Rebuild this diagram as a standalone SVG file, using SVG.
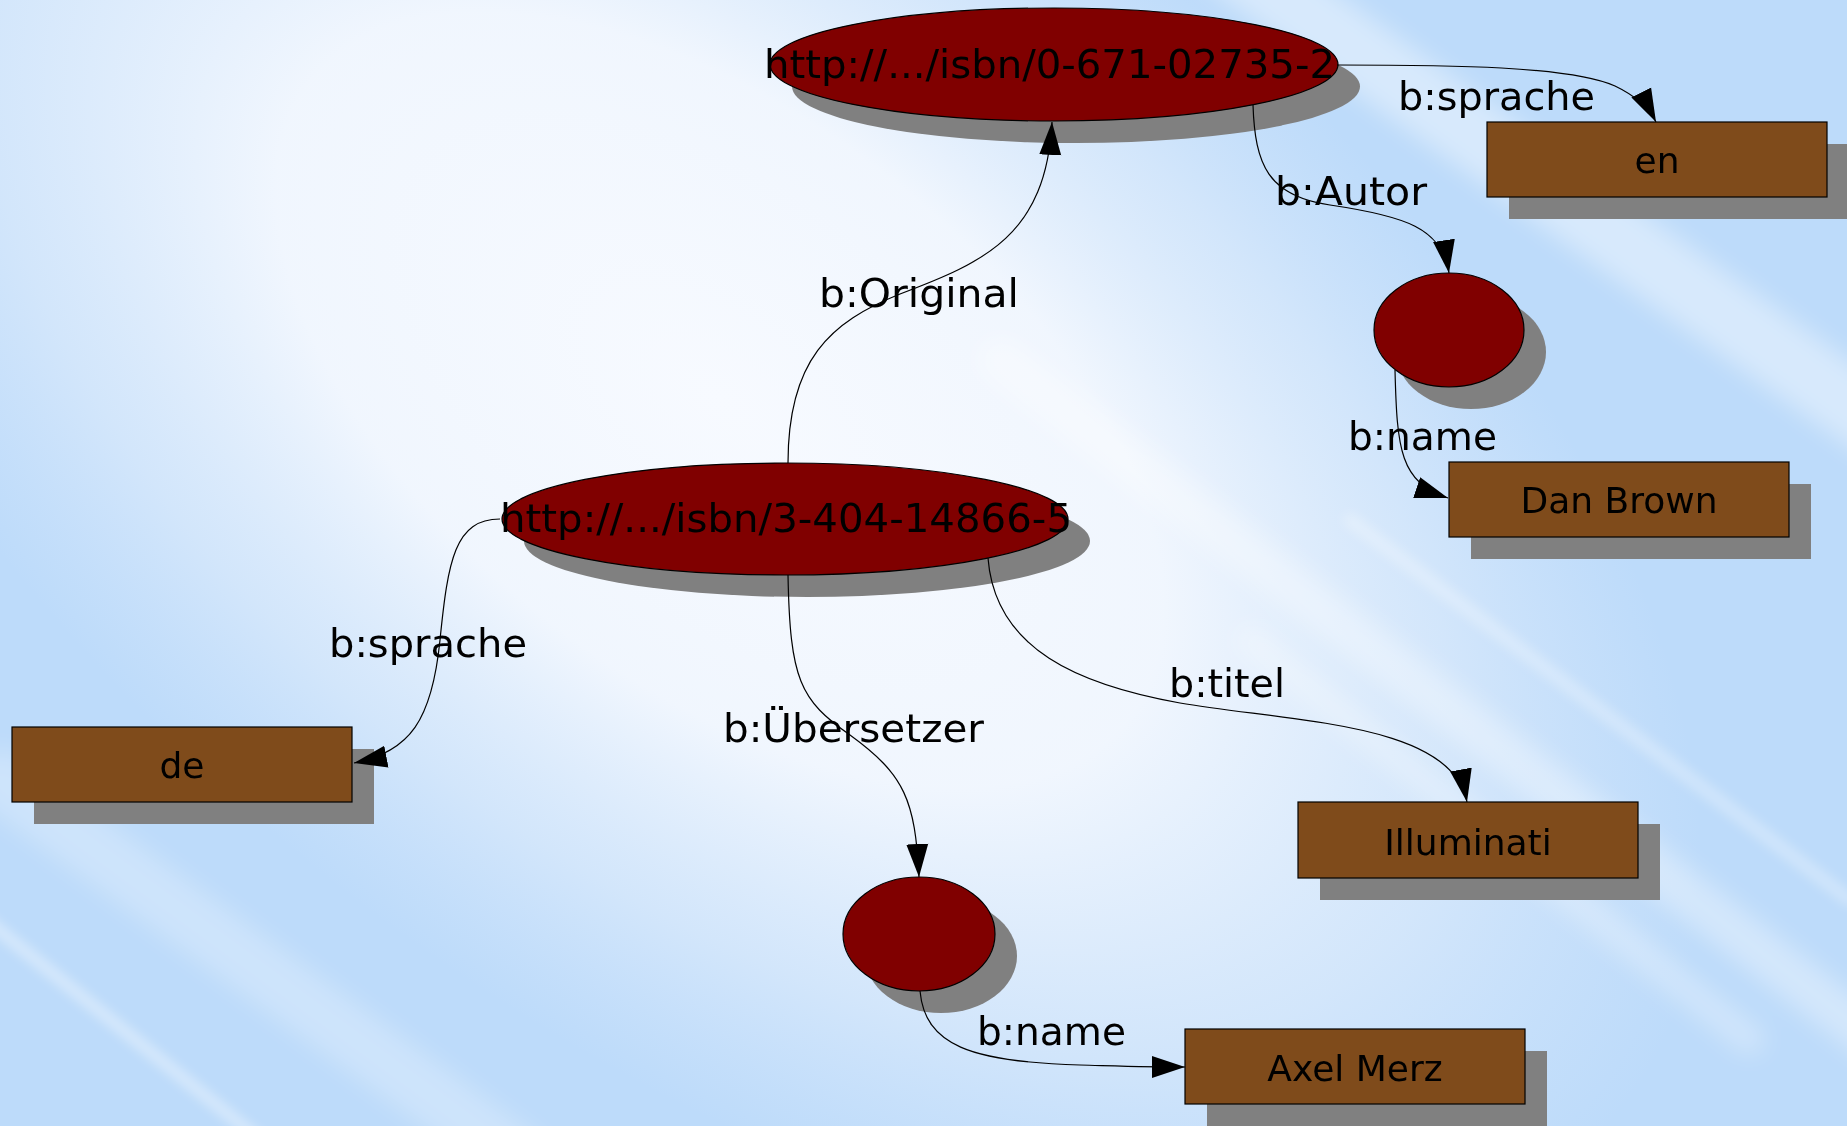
<svg xmlns="http://www.w3.org/2000/svg" width="1847" height="1126" viewBox="0 0 1847 1126">
<style>
.sh{fill:#808080}
.res{fill:#800000;stroke:#000;stroke-width:1.2}
.lit{fill:#7f4b1b;stroke:#000;stroke-width:1.2}
.url{fill:#000;font-family:"DejaVu Sans",sans-serif;font-size:39px}
.val{fill:#000;font-family:"DejaVu Sans",sans-serif;font-size:36px;text-anchor:middle}
.lbl{fill:#000;font-family:"DejaVu Sans",sans-serif;font-size:39px}
.edge{fill:none;stroke:#000;stroke-width:1.2;marker-end:url(#arr)}
.streak{stroke:#fff;fill:none;stroke-linecap:round}
</style>
<defs>
<marker id="arr" markerUnits="userSpaceOnUse" markerWidth="34" markerHeight="24" viewBox="0 0 34 24" refX="33" refY="12" orient="auto">
<path d="M0,1 L33,12 L0,23 Z" fill="#000"/>
</marker>
<radialGradient id="glow" gradientUnits="userSpaceOnUse" cx="0" cy="0" r="1" gradientTransform="translate(720 400) rotate(38) scale(1150 620)">
<stop offset="0" stop-color="#f7faff" stop-opacity="1"/>
<stop offset="0.45" stop-color="#f2f7fe" stop-opacity="0.97"/>
<stop offset="0.75" stop-color="#e4effc" stop-opacity="0.55"/>
<stop offset="1" stop-color="#dceafc" stop-opacity="0"/>
</radialGradient>
<filter id="blur" x="-20%" y="-20%" width="140%" height="140%"><feGaussianBlur stdDeviation="12"/></filter>
<filter id="blur2" x="-20%" y="-20%" width="140%" height="140%"><feGaussianBlur stdDeviation="6"/></filter>
</defs>

<g id="background">
<rect x="0" y="0" width="1847" height="1126" fill="#bddbfa"/>
<rect x="0" y="0" width="1847" height="1126" fill="url(#glow)"/>
<g filter="url(#blur)">
<line class="streak" x1="1230" y1="-40" x2="1900" y2="440" stroke-width="70" opacity="0.4"/>
<line class="streak" x1="1000" y1="360" x2="1900" y2="1060" stroke-width="45" opacity="0.35"/>
<line class="streak" x1="1250" y1="640" x2="1750" y2="1040" stroke-width="30" opacity="0.3"/>
<line class="streak" x1="0" y1="780" x2="520" y2="1160" stroke-width="60" opacity="0.25"/>
</g>
<g filter="url(#blur2)">
<line class="streak" x1="-20" y1="915" x2="260" y2="1140" stroke-width="12" opacity="0.4"/>
<line class="streak" x1="1350" y1="520" x2="1850" y2="900" stroke-width="14" opacity="0.3"/>
</g>
</g>

<g id="node-book-en">
<ellipse class="sh" cx="1076" cy="86.5" rx="284" ry="56.5"/>
<ellipse class="res" cx="1054" cy="64.5" rx="284" ry="56.5"/>
<text class="url" x="764" y="78" textLength="571" lengthAdjust="spacingAndGlyphs">http://.../isbn/0-671-02735-2</text>
</g>

<g id="node-book-de">
<ellipse class="sh" cx="807" cy="541" rx="283" ry="56"/>
<ellipse class="res" cx="785" cy="519" rx="283" ry="56"/>
<text class="url" x="500" y="532" textLength="572" lengthAdjust="spacingAndGlyphs">http://.../isbn/3-404-14866-5</text>
</g>

<g id="node-author">
<ellipse class="sh" cx="1471" cy="352" rx="75" ry="57"/>
<ellipse class="res" cx="1449" cy="330" rx="75" ry="57"/>
</g>

<g id="node-translator">
<ellipse class="sh" cx="941" cy="956" rx="76" ry="57"/>
<ellipse class="res" cx="919" cy="934" rx="76" ry="57"/>
</g>

<g id="node-en">
<rect class="sh" x="1509" y="144" width="340" height="75"/>
<rect class="lit" x="1487" y="122" width="340" height="75"/>
<text class="val" x="1657" y="173">en</text>
</g>

<g id="node-danbrown">
<rect class="sh" x="1471" y="484" width="340" height="75"/>
<rect class="lit" x="1449" y="462" width="340" height="75"/>
<text class="val" x="1619" y="513">Dan Brown</text>
</g>

<g id="node-de">
<rect class="sh" x="34" y="749" width="340" height="75"/>
<rect class="lit" x="12" y="727" width="340" height="75"/>
<text class="val" x="182" y="778">de</text>
</g>

<g id="node-illuminati">
<rect class="sh" x="1320" y="824" width="340" height="76"/>
<rect class="lit" x="1298" y="802" width="340" height="76"/>
<text class="val" x="1468" y="855">Illuminati</text>
</g>

<g id="node-axelmerz">
<rect class="sh" x="1207" y="1051" width="340" height="75"/>
<rect class="lit" x="1185" y="1029" width="340" height="75"/>
<text class="val" x="1355" y="1081">Axel Merz</text>
</g>

<g id="connectors">
<path class="edge" d="M788,463 C788,360 830,322 900,294 C985,262 1046,235 1052,122"/>
<text class="lbl" x="819" y="307" textLength="200" lengthAdjust="spacingAndGlyphs">b:Original</text>

<path class="edge" d="M1337,65 C1450,65 1570,66 1615,86 C1638,97 1650,110 1656,122"/>
<text class="lbl" x="1398" y="110" textLength="197" lengthAdjust="spacingAndGlyphs">b:sprache</text>

<path class="edge" d="M1253,105 C1255,165 1268,196 1330,205 C1405,216 1442,228 1449,273"/>
<text class="lbl" x="1275" y="205" textLength="152" lengthAdjust="spacingAndGlyphs">b:Autor</text>

<path class="edge" d="M1395,370 C1397,450 1400,482 1448,498"/>
<text class="lbl" x="1348" y="450" textLength="149" lengthAdjust="spacingAndGlyphs">b:name</text>

<path class="edge" d="M500,519 C455,519 448,560 440,640 C432,720 410,752 354,763"/>
<text class="lbl" x="329" y="657" textLength="198" lengthAdjust="spacingAndGlyphs">b:sprache</text>

<path class="edge" d="M788,575 C790,680 800,700 850,735 C905,775 915,800 919,877"/>
<text class="lbl" x="723" y="742" textLength="261" lengthAdjust="spacingAndGlyphs">b:Übersetzer</text>

<path class="edge" d="M988,558 C995,650 1080,685 1180,703 C1290,722 1452,722 1467,802"/>
<text class="lbl" x="1169" y="697" textLength="116" lengthAdjust="spacingAndGlyphs">b:titel</text>

<path class="edge" d="M920,991 C925,1045 970,1062 1080,1065 C1120,1066 1150,1067 1185,1067"/>
<text class="lbl" x="977" y="1045" textLength="149" lengthAdjust="spacingAndGlyphs">b:name</text>
</g>
</svg>
